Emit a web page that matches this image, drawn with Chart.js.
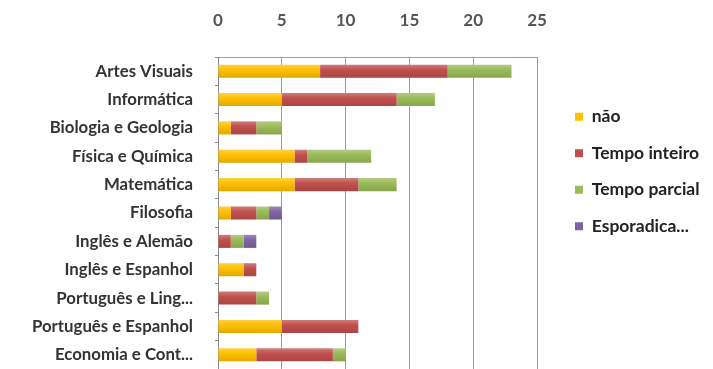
<!DOCTYPE html>
<html><head><meta charset="utf-8">
<script src="https://cdn.jsdelivr.net/npm/chart.js@4/dist/chart.umd.min.js"></script>
<style>html,body{margin:0;padding:0;background:#fff;}#wrap{width:713px;height:369px;position:relative}</style>
</head><body><div id="wrap"><canvas id="c" width="713" height="369"></canvas></div>
<script>
const categories = ["Artes Visuais","Informática","Biologia e Geologia","Física e Química","Matemática","Filosofia","Inglês e Alemão","Inglês e Espanhol","Português e Ling...","Português e Espanhol","Economia e Cont..."];
const nao = [8,5,1,6,6,1,0,2,0,5,3];
const tempoInteiro = [10,9,2,1,5,2,1,1,3,6,6];
const tempoParcial = [5,3,2,5,3,1,1,0,1,0,1];
const esporadica = [0,0,0,0,0,1,1,0,0,0,0];
const xTicks = [0,5,10,15,20,25];

const seriesNames = ["não","Tempo inteiro","Tempo parcial","Esporadica..."];
const colors = ["#FFC000","#C0504D","#9BBB59","#8064A2"];
const values = [nao,tempoInteiro,tempoParcial,esporadica];

function mix(hex, target, f) {
  const n = parseInt(hex.slice(1), 16);
  const ch = [(n >> 16) & 255, (n >> 8) & 255, n & 255].map(v => Math.round(v + (target - v) * f));
  return 'rgb(' + ch.join(',') + ')';
}
function barFill(base) {
  return (ctx) => {
    const c = ctx.chart, ys = c.scales && c.scales.y;
    if (ctx.type !== 'data' || !ys) return base;
    const yc = ys.getPixelForValue(ctx.dataIndex);
    if (!Number.isFinite(yc)) return base;
    const g = c.ctx.createLinearGradient(0, yc - 6.5, 0, yc + 6.5);
    g.addColorStop(0, mix(base, 255, 0.25));
    g.addColorStop(0.4, base);
    g.addColorStop(1, mix(base, 0, 0.12));
    return g;
  };
}

// keeps the legend box a fixed width and moves it a little away from the plot
const legendPlacement = {
  id: 'legendPlacement',
  beforeLayout(c) {
    const lg = c.legend;
    if (lg && !lg._fixedFit) {
      const orig = lg.fit;
      lg.fit = function () { orig.call(this); this.width = 176; };
      lg._fixedFit = true;
    }
  },
  afterLayout(c) { if (c.legend) { c.legend.left += 19; c.legend.right += 19; } }
};

new Chart(document.getElementById('c'), {
  type: 'bar',
  data: {
    labels: categories,
    datasets: values.map((v,i)=>({label: seriesNames[i], data: v, backgroundColor: barFill(colors[i]), borderWidth: 0, barPercentage: 0.46, categoryPercentage: 1}))
  },
  plugins: [legendPlacement],
  options: {
    indexAxis: 'y',
    responsive: false,
    animation: false,
    layout: {autoPadding: false, padding: {left: 0, right: 0, top: 0, bottom: 0}},
    plugins: {
      legend: {position: 'right', align: 'start',
        title: {display: true, text: ' ', font: {size: 10, lineHeight: 1}, padding: {top: 79, bottom: 0}},
        labels: {boxWidth: 8, boxHeight: 8, padding: 19, color: '#222', font: {family: 'Lato', size: 17.5, weight: 'bold'},
          generateLabels: (chart) => Chart.defaults.plugins.legend.labels.generateLabels(chart).map((it, i) => Object.assign(it, {fillStyle: colors[i], strokeStyle: colors[i], lineWidth: 0}))}},
      tooltip: {enabled: false}
    },
    scales: {
      x: {position: 'top', stacked: true, min: 0, max: 25,
        afterBuildTicks: s => { s.ticks = xTicks.map(v=>({value:v})); },
        afterFit: s => { s.height = 57; },
        grid: {color: '#9a9a9a', drawTicks: false},
        border: {color: '#9aa39a'},
        ticks: {padding: 26, color: '#555', font: {family: 'Lato', size: 17, weight: 'bold'}}},
      y: {stacked: true,
        afterFit: s => { s.width = 218; s.paddingTop = 0; s.paddingBottom = 0; },
        grid: {drawOnChartArea: false, tickLength: 3, color: '#8a8a8a'},
        border: {color: '#8a8a8a'},
        ticks: {padding: 22, color: '#333', font: {family: 'Lato', size: 16.8, weight: 'bold'}}}
    }
  }
});
</script></body></html>
